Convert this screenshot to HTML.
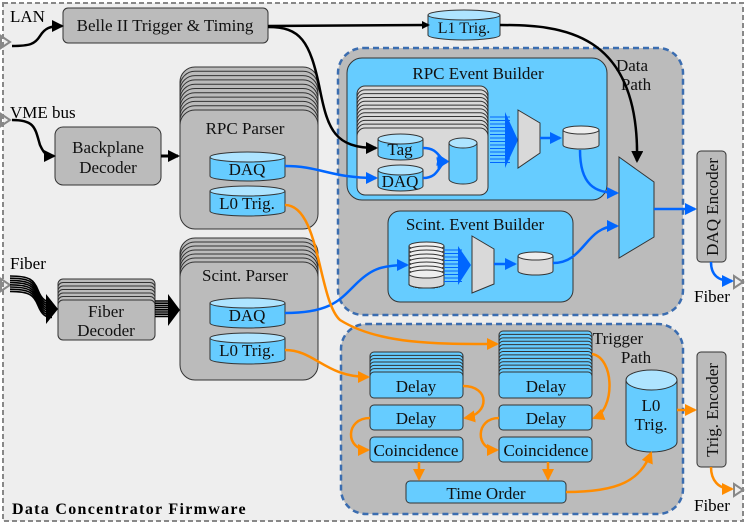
<!DOCTYPE html>
<html><head><meta charset="utf-8"><style>
html,body{margin:0;padding:0;background:#fff}
svg{display:block;font-family:"Liberation Serif",serif}
</style></head><body>
<svg id="s" width="747" height="526" viewBox="0 0 747 526" xmlns="http://www.w3.org/2000/svg">
<defs>
<marker id="ak" markerWidth="8" markerHeight="8" refX="6" refY="4" orient="auto" markerUnits="userSpaceOnUse"><path d="M0,0 L8,4 L0,8 Z" fill="#000"/></marker>
<marker id="ab" markerWidth="12" markerHeight="12" refX="10" refY="6" orient="auto" markerUnits="userSpaceOnUse"><path d="M0,0 L12,6 L0,12 Z" fill="#0066ff"/></marker>
<marker id="ao" markerWidth="12" markerHeight="12" refX="10" refY="6" orient="auto" markerUnits="userSpaceOnUse"><path d="M0,0 L12,6 L0,12 Z" fill="#ff8c00"/></marker>
<marker id="ak2" markerWidth="12" markerHeight="12" refX="10" refY="6" orient="auto" markerUnits="userSpaceOnUse"><path d="M0,0 L12,6 L0,12 Z" fill="#000"/></marker>
</defs>
<rect x="3" y="3" width="740" height="518" fill="#eeeeee" stroke="#888" stroke-width="2" stroke-dasharray="5,3"/>
<g id="g"></g>
</svg>
<script>
const g=document.getElementById('g');let h='';
const B='#66ccff',G='#bbbbbb',L='#d9d9d9';
function rect(x,y,w,hh,f,rx){h+=`<rect x="${x}" y="${y}" width="${w}" height="${hh}" rx="${rx}" fill="${f}" stroke="#333" stroke-width="1"/>`;}
function stack(x,y0,w,yF,hF,f,rx,n){let step=(yF-y0)/n;for(let i=0;i<n;i++){rect(x,y0+i*step,w,hF,f,rx);}rect(x,yF,w,hF,f,rx);}
function txt(x,y,t,s,extra){h+=`<text x="${x}" y="${y}" font-size="${s||17}" text-anchor="middle" fill="#111" ${extra||''}>${t}</text>`;}
function cyl(x,y,w,hh,f,top){let ry=top||4;h+=`<path d="M${x},${y+ry} L${x},${y+hh-ry} A${w/2},${ry} 0 0 0 ${x+w},${y+hh-ry} L${x+w},${y+ry}" fill="${f}" stroke="#333"/><ellipse cx="${x+w/2}" cy="${y+ry}" rx="${w/2}" ry="${ry}" fill="${f=='#66ccff'?'#aee4ff':'#eee'}" stroke="#333"/>`;}
function p(d,c,m,w){h+=`<path d="${d}" fill="none" stroke="${c}" stroke-width="${w||2.5}" marker-end="url(#${m})"/>`;}
function tri(x,y){h+=`<path d="M1,${y-6} L10,${y} L1,${y+6} Z" fill="none" stroke="#888" stroke-width="2"/>`;}
function triR(x,y){h+=`<path d="M${x},${y-6} L${x+9},${y} L${x},${y+6} Z" fill="none" stroke="#888" stroke-width="2"/>`;}
h+=`<rect x="338" y="48" width="345" height="267" rx="25" fill="${G}" stroke="#3b6db0" stroke-width="2.5" stroke-dasharray="6,4"/>`;
h+=`<rect x="341" y="324" width="342" height="190" rx="25" fill="${G}" stroke="#3b6db0" stroke-width="2.5" stroke-dasharray="6,4"/>`;
txt(632,71,'Data',17);txt(636,90,'Path',17);
txt(618,344,'Trigger',17);txt(636,363,'Path',17);
h+=`<text x="10" y="22" font-size="17">LAN</text><text x="10" y="118" font-size="17">VME bus</text><text x="10" y="269" font-size="17">Fiber</text>`;
h+=`<text x="12" y="514" font-size="16" font-weight="bold" letter-spacing="1.3">Data Concentrator Firmware</text>`;
tri(0,42);tri(0,120);tri(0,285);
rect(63,8,205,35,G,5);txt(165,31,'Belle II Trigger &amp; Timing',17);
cyl(428,10,72,30,B,5);txt(464,33,'L1 Trig.',16);
rect(55,127,106,58,G,8);txt(108,153,'Backplane',17);txt(108,173,'Decoder',17);
stack(180,67,138,110,119,G,15,10);txt(245,134,'RPC Parser',17);
cyl(210,152,75,29,B,5);txt(247,175,'DAQ',17);
cyl(210,186,75,30,B,5);txt(247,209,'L0 Trig.',17);
stack(58,279,97,300,40,G,5,6);txt(106,317,'Fiber',17);txt(106,336,'Decoder',17);
stack(180,238,138,262,118,G,15,6);txt(245,281,'Scint. Parser',17);
cyl(210,298,75,30,B,5);txt(247,321,'DAQ',17);
cyl(210,333,75,31,B,5);txt(247,356,'L0 Trig.',17);
rect(347,58,260,142,B,15);txt(478,79,'RPC Event Builder',17);
stack(357,86,131,128,67,L,8,11);
cyl(378,134,45,26,B,5);txt(400,155,'Tag',17);
cyl(378,165,45,26,B,5);txt(400,187,'DAQ',17);
cyl(449,138,28,46,B,5);
for(let i=0;i<14;i++){let y=117+i*3.5;h+=`<line x1="490" y1="${y}" x2="510" y2="${y}" stroke="#0066ff" stroke-width="1"/>`;}
h+=`<path d="M505,112 L518,140 L505,168 Z" fill="#0066ff"/>`;
h+=`<path d="M518,110 L540,123 L540,153 L518,168 Z" fill="${L}" stroke="#333"/>`;
p('M540,138 L560,138','#0066ff','ab');
cyl(563,126,36,23,L,4);
rect(388,211,185,91,B,12);txt(475,230,'Scint. Event Builder',17);
for(let i=0;i<8;i++){cyl(409,242+i*4,35,46-i*4,L,4);}
for(let i=0;i<10;i++){let y=250+i*3.5;h+=`<line x1="444" y1="${y}" x2="462" y2="${y}" stroke="#0066ff" stroke-width="1"/>`;}
h+=`<path d="M458,246 L471,265 L458,285 Z" fill="#0066ff"/>`;
h+=`<path d="M472,236 L494,249 L494,284 L472,293 Z" fill="${L}" stroke="#333"/>`;
p('M494,264 L515,264','#0066ff','ab');
cyl(518,252,35,23,L,4);
h+=`<path d="M619,157 L654,182 L654,237 L619,258 Z" fill="${B}" stroke="#333"/>`;
rect(697,151,29,111,G,4);txt(0,0,'DAQ Encoder',17,'transform="translate(718,207) rotate(-90)"');
rect(697,352,29,115,G,4);txt(0,0,'Trig. Encoder',17,'transform="translate(718,410) rotate(-90)"');
h+=`<text x="694" y="302" font-size="17">Fiber</text><text x="694" y="511" font-size="17">Fiber</text>`;
triR(734,282);triR(734,490);
stack(370,352,93,372,26,B,4,6);txt(416,392,'Delay',17);
rect(370,405,93,25,B,4);txt(416,424,'Delay',17);
rect(370,437,93,25,B,4);txt(416,456,'Coincidence',17);
stack(499,331,93,372,26,B,4,12);txt(546,392,'Delay',17);
rect(499,405,93,25,B,4);txt(546,424,'Delay',17);
rect(499,437,93,25,B,4);txt(546,456,'Coincidence',17);
rect(406,481,160,22,B,4);txt(486,499,'Time Order',17);
cyl(626,370,51,82,B,10);txt(651,411,'L0',17);txt(651,430,'Trig.',17);
p('M12,46 C30,46 35,44 40,36 C45,28 50,26 62,26','#000','ak2',2.5);
p('M12,120 C35,120 35,128 40,145 C45,156 48,156 54,156','#000','ak2',2.5);
p('M161,156 L178,156','#000','ak2',3);
p('M268,26 L428,25','#000','ak',2.5);
p('M268,27 C300,27 310,40 320,90 C328,130 335,148 376,148','#000','ak2',2.5);
p('M500,25 C560,25 640,30 637,161','#000','ak2',2.5);
for(let i=0;i<8;i++){let d=i*2.2;h+=`<path d="M10,${276+d} C30,${276+d} 34,${280+d} 38,${290+d} C42,${300+d} 46,${302+d} 52,${302+d}" fill="none" stroke="#000" stroke-width="1.6"/>`;h+=`<line x1="155" y1="${301+d}" x2="172" y2="${301+d}" stroke="#000" stroke-width="1.6"/>`;}
h+=`<path d="M46,294 L58,309 L46,324 Z"/><path d="M168,294 L180,310 L168,326 Z"/>`;
p('M285,166 C320,166 330,178 376,178','#0066ff','ab');
p('M285,313 C330,313 340,300 355,285 C370,270 380,265 407,265','#0066ff','ab');
p('M423,148 C440,148 438,160 447,161','#0066ff','ab');
p('M423,178 C440,178 438,163 447,162','#0066ff','ab');
p('M580,150 C580,185 595,193 617,193','#0066ff','ab');
p('M553,263 C585,263 585,226 617,226','#0066ff','ab');
p('M654,209 L695,209','#0066ff','ab');
p('M711,262 C711,275 718,281 732,281','#0066ff','ab');
p('M285,205 C320,205 318,300 340,320 C380,345 440,344 497,344','#ff8c00','ao');
p('M285,350 C315,350 325,377 368,377','#ff8c00','ao');
p('M463,386 C490,386 490,414 465,418','#ff8c00','ao');
p('M370,418 C345,418 345,450 368,450','#ff8c00','ao');
p('M592,354 C615,358 615,410 594,418','#ff8c00','ao');
p('M499,418 C475,418 475,450 497,450','#ff8c00','ao');
p('M419,462 L419,479','#ff8c00','ao');
p('M548,462 L548,479','#ff8c00','ao');
p('M566,492 C620,492 640,480 651,453','#ff8c00','ao');
p('M677,410 L695,410','#ff8c00','ao');
p('M711,467 C711,480 718,489 732,489','#ff8c00','ao');
g.innerHTML=h;
</script>
</body></html>
